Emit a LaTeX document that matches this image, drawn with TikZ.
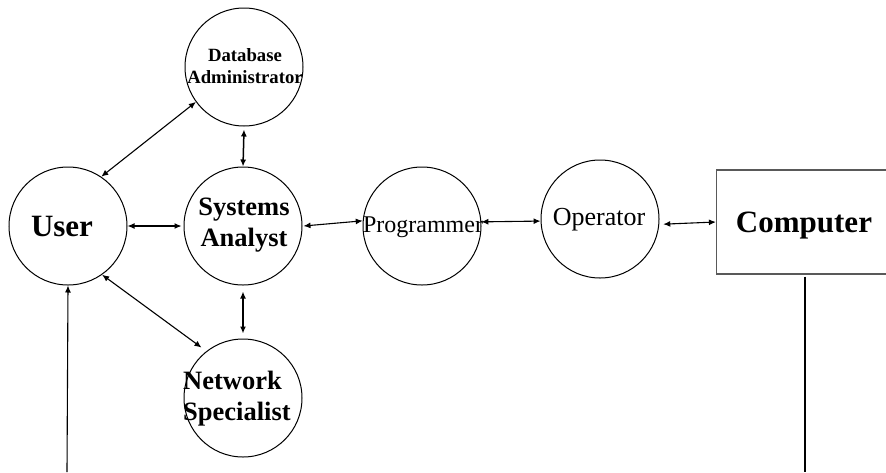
\documentclass[tikz,border=0pt]{standalone}
\usepackage{fontspec}
\setmainfont{Liberation Serif}
\usetikzlibrary{arrows.meta,calc}
\begin{document}
\begin{tikzpicture}[x=1pt,y=-1pt,
  role/.style={circle,draw=black,line width=1pt,minimum size=118pt,inner sep=0pt},
  lbl/.style={inner sep=0pt,font=\bfseries},
  tip/.style={Latex[length=7pt,width=6pt]},
  link/.style={line width=1.1pt,{Latex[length=7pt,width=6pt]}-{Latex[length=7pt,width=6pt]}},
  vlink/.style={line width=1.5pt,{Latex[length=7pt,width=6pt]}-{Latex[length=7pt,width=6pt]}},
  machine/.style={rectangle,draw=black!65,line width=1.2pt,minimum width=177pt,minimum height=104pt,inner sep=0pt}
]
\useasboundingbox (0,0) rectangle (886,472);
% circles
\node[role] (db) at (244,67) {};
\node[role] (user) at (68,226) {};
\node[role] (sa) at (243,226) {};
\node[role] (ns) at (243,398) {};
\node[role] (prog) at (422,226) {};
\node[role] (op) at (600,219) {};
\node[machine] (comp) at (805,222) {};
% texts
\node[lbl,align=center,font=\bfseries\fontsize{18.7}{22}\selectfont] (dbT) at (245,66) {Database\\Administrator};
\node[lbl,font=\bfseries\fontsize{31}{32}\selectfont] (userT) at (62,226) {User};
\node[lbl,align=center,font=\bfseries\fontsize{26.5}{31}\selectfont] (saT) at (244,225) {Systems\\Analyst};
\node[lbl,align=left,anchor=west,font=\bfseries\fontsize{26.5}{31}\selectfont] (nsT) at (183,399) {Network\\Specialist};
\node[inner sep=0pt,font=\fontsize{24}{26}\selectfont] (progT) at (423,227) {Programmer};
\node[inner sep=0pt,font=\fontsize{26}{28}\selectfont] (opT) at (599,220) {Operator};
\node[lbl,font=\bfseries\fontsize{31}{32}\selectfont] (compT) at (804,226) {Computer};
% ends of the open lines
\coordinate (userIn) at (67,472);
\coordinate (compOut) at (805,472);
% connectors
\draw[link] (user.56) -- (db.216);
\draw[link] (user.east) -- ([xshift=-2pt]sa.west);
\draw[vlink] ([yshift=-3pt]db.south) -- (sa.north);
\draw[vlink] ([yshift=-6pt]sa.south) -- ([yshift=5pt]ns.north);
\draw[link] (user.-55) -- ($(ns.128)!6pt!(user.-55)$);
\draw[link] ([xshift=1pt]sa.east) -- (prog.175);
\draw[link] (prog.4) -- (op.182);
\draw[link] ([xshift=4pt]op.-5) -- (comp.west);
\draw[line width=1.1pt,-{Latex[length=7pt,width=6pt]}] (userIn) -- (user.south);
\draw[line width=1.5pt] ([yshift=-2pt]comp.south) -- (compOut);
\end{tikzpicture}
\end{document}
